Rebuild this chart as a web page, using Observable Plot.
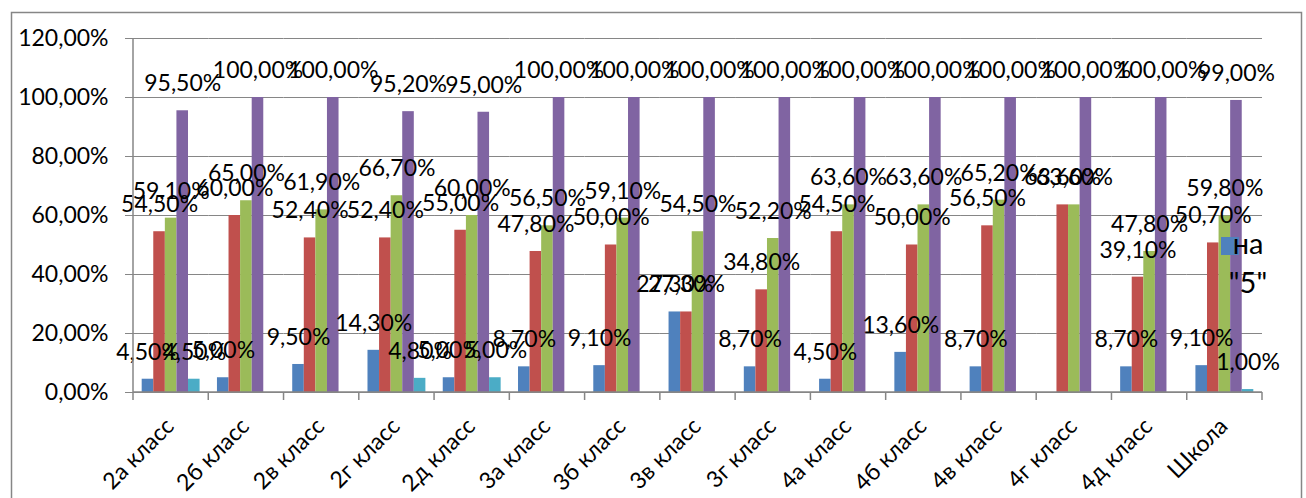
<!DOCTYPE html>
<html><head><meta charset="utf-8">
<script src="https://cdn.jsdelivr.net/npm/d3@7"></script>
<script src="https://cdn.jsdelivr.net/npm/@observablehq/plot@0.6"></script>
<style>
html,body{margin:0;padding:0;background:#fff;}
#chart{position:relative;width:1306px;height:498px;overflow:hidden;}
#chart svg{display:block;}
</style></head><body><div id="chart"></div>
<script>
const categories = ["2а класс","2б класс","2в класс","2г класс","2д класс","3а класс","3б класс","3в класс","3г класс","4а класс","4б класс","4в класс","4г класс","4д класс","Школа"];
const seriesNames = ['на "5"', 'на "4" и "5"', 'качество', 'успеваемость', 'на "2"'];
const seriesColors = ["#4F81BD","#C0504D","#9BBB59","#8064A2","#4BACC6"];
const s1 = [4.5, 5.0, 9.5, 14.3, 5.0, 8.7, 9.1, 27.3, 8.7, 4.5, 13.6, 8.7, null, 8.7, 9.1];
const s2 = [54.5, 60.0, 52.4, 52.4, 55.0, 47.8, 50.0, 27.3, 34.8, 54.5, 50.0, 56.5, 63.6, 39.1, 50.7];
const s3 = [59.1, 65.0, 61.9, 66.7, 60.0, 56.5, 59.1, 54.5, 52.2, 63.6, 63.6, 65.2, 63.6, 47.8, 59.8];
const s4 = [95.5, 100, 100, 95.2, 95.0, 100, 100, 100, 100, 100, 100, 100, 100, 100, 99.0];
const s5 = [4.5, null, null, 4.8, 5.0, null, null, null, null, null, null, null, null, null, 1.0];
const yTicks = [0, 20, 40, 60, 80, 100, 120];
const legendLabels = ['на', '"5"'];

const allSeries = [s1, s2, s3, s4, s5];
const rows = [];
categories.forEach((c, i) => allSeries.forEach((s, j) => {
  if (s[i] != null) rows.push({cat: c, series: seriesNames[j], value: s[i]});
}));
const locale = d3.formatLocale({decimal: ",", thousands: " ", grouping: [3], currency: ["", ""]});
const f2 = locale.format(".2f");
const pct = v => f2(v) + "%";
const font = "Lato, 'Open Sans', sans-serif";
const gray = "#868686";

const chart = Plot.plot({
  width: 1306, height: 498,
  marginLeft: 133, marginRight: 44, marginTop: 38, marginBottom: 106,
  style: {fontFamily: font, fontSize: "23px", color: "#000", background: "transparent", overflow: "visible"},
  fx: {domain: categories, paddingInner: 0, paddingOuter: 0, round: false, label: null, axis: null},
  x: {domain: seriesNames, paddingInner: 0, paddingOuter: 0.75, round: false, axis: null},
  y: {domain: [0, 120], label: null},
  color: {domain: seriesNames, range: seriesColors},
  marks: [
    Plot.gridY(yTicks, {stroke: gray, strokeOpacity: 1}),
    Plot.axisY(yTicks, {tickFormat: d => pct(d), tickSize: 8, tickPadding: 17, fontSize: 23, stroke: gray, fill: "#000", label: null}),
    // category tick labels (fx axis)
    Plot.text(categories, {fx: d => d, text: d => d, frameAnchor: "bottom", rotate: -45, textAnchor: "end", lineAnchor: "middle", dx: -1, dy: 30, fontSize: 23, fill: "#000"}),
    Plot.barY(rows, {fx: "cat", x: "series", y: "value", fill: "series"}),
    Plot.text(rows, {fx: "cat", x: "series", y: "value", text: d => pct(d.value), dy: -27, fontSize: 23, fill: "#000"})
  ]
});
document.getElementById("chart").appendChild(chart);

const svg = d3.select(chart);
const fx = chart.scale("fx");
const y = chart.scale("y");
const y0 = y.apply(0), yTop = y.apply(120);
const xL = fx.apply(categories[0]);
const xR = fx.apply(categories[categories.length - 1]) + fx.bandwidth;
const g = svg.append("g").attr("stroke", gray).attr("stroke-width", 1.5);
g.append("line").attr("x1", xL).attr("x2", xL).attr("y1", yTop).attr("y2", y0);
g.append("line").attr("x1", xL).attr("x2", xR).attr("y1", y0).attr("y2", y0);
const bounds = categories.map(c => fx.apply(c)).concat([xR]);
bounds.forEach(b => g.append("line").attr("x1", b).attr("x2", b).attr("y1", y0).attr("y2", y0 + 8));
// outer frame
svg.append("rect").attr("x", 11.5).attr("y", 12.5).attr("width", 1290).attr("height", 520)
  .attr("fill", "none").attr("stroke", gray).attr("stroke-width", 1.5);
// legend (only first entry visible)
const lg = svg.append("g");
lg.append("rect").attr("x", 1221).attr("y", 237).attr("width", 18).attr("height", 18).attr("fill", seriesColors[0]);
legendLabels.forEach((t, i) => lg.append("text").attr("x", 1248).attr("y", 254 + i * 39)
  .attr("font-family", font).attr("font-size", 29).attr("fill", "#000").text(t));
</script>
</body></html>
